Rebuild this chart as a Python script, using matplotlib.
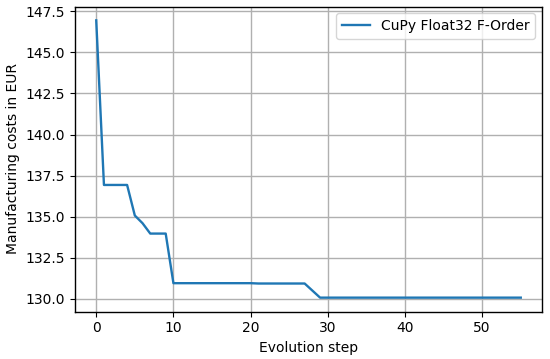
#!/usr/bin/env python3
import matplotlib
matplotlib.use('Agg')
import matplotlib.pyplot as plt
import numpy as np

steps = list(range(56))
costs = ([146.95, 136.93, 136.93, 136.93, 136.93, 135.07, 134.6, 133.97, 133.97, 133.97]
         + [130.95] * 11 + [130.93] * 7 + [130.5] + [130.07] * 27)

plt.rcParams['axes.linewidth'] = 1.0

fig = plt.figure(figsize=(5.5, 3.59), dpi=100)
ax = fig.add_axes([75 / 550, 1 - 311.5 / 359, (542 - 75) / 550, (311.5 - 6.5) / 359])
ax.plot(steps, costs, label='CuPy Float32 F-Order', linewidth=1.7)
ax.set_xlabel('Evolution step')
ax.set_ylabel('Manufacturing costs in EUR')
ax.grid(True, color='#b0b0b0', linewidth=1.0)
ax.legend(loc='upper right')
fig.savefig('out.png', dpi=100)
